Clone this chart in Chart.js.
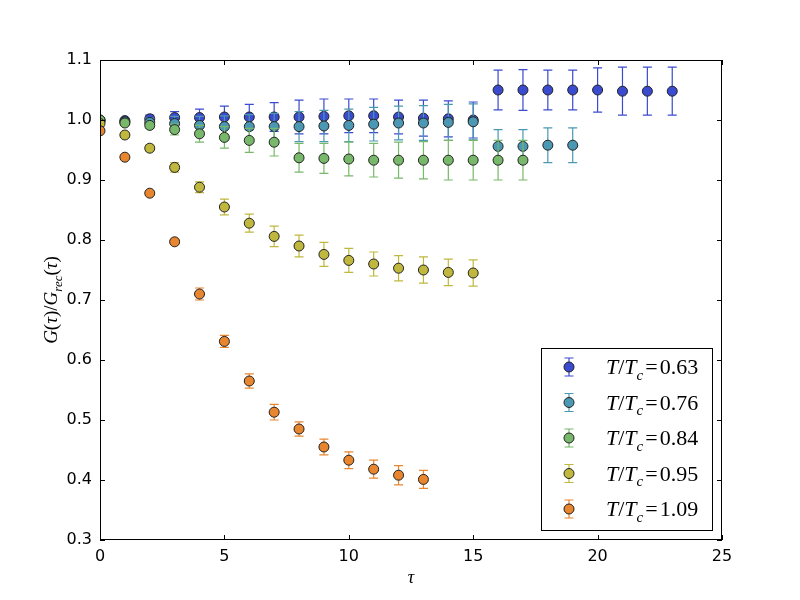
<!DOCTYPE html>
<html>
<head>
<meta charset="utf-8">
<script src="https://cdn.jsdelivr.net/npm/chart.js@4.4.1/dist/chart.umd.min.js"></script>
<style>
  html, body { margin: 0; padding: 0; background: #fff; }
</style>
</head>
<body>
<canvas id="chart" width="800" height="600"></canvas>
<script>
// imaginary time slices
const tau = [0, 1, 2, 3, 4, 5, 6, 7, 8, 9, 10, 11, 12, 13, 14, 15, 16, 17, 18, 19, 20, 21, 22, 23];

// T/Tc values for the legend
const tempLabels = ["0.63", "0.76", "0.84", "0.95", "1.09"];
const seriesColors = ["#3a4bcf", "#4a98b3", "#78b86a", "#c0b83e", "#e8862f"];

// G(tau)/G_rec(tau) and errors, one pair per temperature
const g063 = [1.000, 0.999, 1.002, 1.004, 1.004, 1.005, 1.005, 1.005, 1.005, 1.006, 1.007, 1.007, 1.005, 1.003, 1.002, 1.000, 1.050, 1.050, 1.050, 1.050, 1.050, 1.048, 1.048, 1.048];
const e063 = [0.001, 0.003, 0.006, 0.010, 0.014, 0.018, 0.021, 0.024, 0.028, 0.029, 0.028, 0.028, 0.028, 0.030, 0.030, 0.030, 0.033, 0.034, 0.033, 0.033, 0.037, 0.040, 0.040, 0.040];

const g076 = [0.998, 0.997, 0.996, 0.994, 0.991, 0.989, 0.989, 0.989, 0.989, 0.990, 0.991, 0.993, 0.995, 0.995, 0.996, 0.997, 0.956, 0.956, 0.958, 0.958];
const e076 = [0.002, 0.004, 0.007, 0.012, 0.015, 0.018, 0.020, 0.022, 0.025, 0.026, 0.027, 0.028, 0.028, 0.029, 0.030, 0.030, 0.028, 0.028, 0.029, 0.029];

const g084 = [1.000, 0.995, 0.991, 0.984, 0.977, 0.971, 0.966, 0.963, 0.937, 0.936, 0.935, 0.933, 0.933, 0.933, 0.933, 0.933, 0.933, 0.933];
const e084 = [0.001, 0.003, 0.005, 0.009, 0.014, 0.018, 0.020, 0.023, 0.024, 0.025, 0.028, 0.028, 0.030, 0.031, 0.033, 0.033, 0.033, 0.033];

const g095 = [0.994, 0.975, 0.953, 0.921, 0.888, 0.855, 0.828, 0.806, 0.790, 0.776, 0.766, 0.760, 0.753, 0.750, 0.746, 0.745];
const e095 = [0.001, 0.003, 0.005, 0.008, 0.009, 0.013, 0.015, 0.017, 0.018, 0.020, 0.020, 0.020, 0.021, 0.022, 0.022, 0.022];

const g109 = [0.982, 0.938, 0.878, 0.797, 0.710, 0.631, 0.565, 0.513, 0.485, 0.455, 0.433, 0.418, 0.408, 0.401];
const e109 = [0.001, 0.002, 0.003, 0.004, 0.010, 0.010, 0.012, 0.013, 0.012, 0.013, 0.014, 0.015, 0.016, 0.015];

const values = [g063, g076, g084, g095, g109];
const errors = [e063, e076, e084, e095, e109];

const xTicks = [0, 5, 10, 15, 20, 25];
const yTicks = [0.3, 0.4, 0.5, 0.6, 0.7, 0.8, 0.9, 1.0, 1.1];

const SERIF = "'Liberation Serif', 'DejaVu Serif', serif";
const SANS = "'DejaVu Sans', sans-serif";

// draw a run of text pieces (italic / subscript) like matplotlib mathtext
function drawMath(ctx, pieces, x, y, size, align) {
  const fontFor = p => (p.it ? "italic " : "") + Math.round(p.sub ? size * 0.7 : size) + "px " + SERIF;
  let total = 0;
  const widths = pieces.map(p => {
    ctx.font = fontFor(p);
    const w = ctx.measureText(p.t).width + (p.gap || 0) * 2;
    total += w;
    return w;
  });
  let cx = align === "center" ? x - total / 2 : x;
  ctx.textAlign = "left";
  ctx.textBaseline = "alphabetic";
  pieces.forEach((p, i) => {
    ctx.font = fontFor(p);
    ctx.fillText(p.t, cx + (p.gap || 0), p.sub ? y + size * 0.25 : y);
    cx += widths[i];
  });
}

function drawErrorBar(ctx, x, yTop, yBot, color) {
  ctx.strokeStyle = color;
  ctx.lineWidth = 1.2;
  ctx.beginPath();
  ctx.moveTo(x, yTop); ctx.lineTo(x, yBot);
  ctx.moveTo(x - 4.5, yTop); ctx.lineTo(x + 4.5, yTop);
  ctx.moveTo(x - 4.5, yBot); ctx.lineTo(x + 4.5, yBot);
  ctx.stroke();
}

const errorBarPlugin = {
  id: "errorBars",
  beforeDatasetDraw(chart, args) {
    const { ctx, chartArea, scales } = chart;
    const i = args.index;
    ctx.save();
    ctx.beginPath();
    ctx.rect(chartArea.left, chartArea.top, chartArea.right - chartArea.left, chartArea.bottom - chartArea.top);
    ctx.clip();
    values[i].forEach((v, k) => {
      const px = scales.x.getPixelForValue(tau[k]);
      drawErrorBar(ctx, px, scales.y.getPixelForValue(v + errors[i][k]), scales.y.getPixelForValue(v - errors[i][k]), seriesColors[i]);
    });
    ctx.restore();
  },
  afterDatasetsDraw(chart) {
    const { ctx, chartArea: a, scales } = chart;
    ctx.save();
    // frame
    ctx.strokeStyle = "#000";
    ctx.lineWidth = 1;
    ctx.strokeRect(a.left + 0.5, a.top + 0.5, a.right - a.left - 1, a.bottom - a.top - 1);
    // inward ticks on all four sides
    ctx.beginPath();
    xTicks.forEach(t => {
      const px = Math.round(scales.x.getPixelForValue(t)) + 0.5;
      ctx.moveTo(px, a.bottom); ctx.lineTo(px, a.bottom - 5);
      ctx.moveTo(px, a.top); ctx.lineTo(px, a.top + 5);
    });
    yTicks.forEach(t => {
      const py = Math.round(scales.y.getPixelForValue(t)) + 0.5;
      ctx.moveTo(a.left, py); ctx.lineTo(a.left + 5, py);
      ctx.moveTo(a.right, py); ctx.lineTo(a.right - 5, py);
    });
    ctx.stroke();

    // axis titles
    ctx.fillStyle = "#000";
    drawMath(ctx, [{ t: "\u03c4", it: true }], (a.left + a.right) / 2, 583, 18, "center");
    ctx.save();
    ctx.translate(57, (a.top + a.bottom) / 2);
    ctx.rotate(-Math.PI / 2);
    drawMath(ctx, [
      { t: "G", it: true }, { t: "(" }, { t: "\u03c4", it: true }, { t: ")/" },
      { t: "G", it: true }, { t: "rec", it: true, sub: true }, { t: "(" }, { t: "\u03c4", it: true }, { t: ")" }
    ], 0, 0, 19, "center");
    ctx.restore();

    // legend box
    const lx = 541, ly = 348, lw = 171, lh = 182;
    ctx.fillStyle = "#fff";
    ctx.fillRect(lx, ly, lw, lh);
    ctx.strokeStyle = "#000";
    ctx.strokeRect(lx + 0.5, ly + 0.5, lw, lh);
    tempLabels.forEach((lab, i) => {
      const cy = 367 + i * 35.5;
      drawErrorBar(ctx, 569, cy - 9, cy + 9, seriesColors[i]);
      ctx.beginPath();
      ctx.arc(569, cy, 5, 0, Math.PI * 2);
      ctx.fillStyle = seriesColors[i];
      ctx.fill();
      ctx.lineWidth = 1;
      ctx.strokeStyle = "#222";
      ctx.stroke();
      ctx.fillStyle = "#000";
      drawMath(ctx, [
        { t: "T", it: true }, { t: "/" }, { t: "T", it: true }, { t: "c", it: true, sub: true },
        { t: "=", gap: 2 }, { t: lab }
      ], 606, cy + 7, 22, "left");
    });
    ctx.restore();
  }
};

const datasets = values.map((vals, i) => ({
  label: "T/Tc=" + tempLabels[i],
  data: vals.map((v, k) => ({ x: tau[k], y: v })),
  backgroundColor: seriesColors[i],
  borderColor: "#222",
  borderWidth: 1,
  pointRadius: 5,
  pointHoverRadius: 5,
  clip: 0,
  order: values.length - i
}));

new Chart(document.getElementById("chart"), {
  type: "scatter",
  data: { datasets },
  options: {
    responsive: false,
    animation: false,
    layout: { padding: { top: 60, right: 78, left: 0, bottom: 0 } },
    plugins: { legend: { display: false }, tooltip: { enabled: false } },
    scales: {
      x: {
        type: "linear",
        min: 0,
        max: 25,
        afterFit: s => { s.height = 60; },
        afterBuildTicks: s => { s.ticks = xTicks.map(v => ({ value: v })); },
        grid: { display: false, drawTicks: false },
        border: { display: false },
        ticks: { color: "#000", padding: 7, font: { family: SANS, size: 16 } }
      },
      y: {
        min: 0.3,
        max: 1.1,
        afterFit: s => { s.width = 100; },
        afterBuildTicks: s => { s.ticks = yTicks.map(v => ({ value: v })); },
        grid: { display: false, drawTicks: false },
        border: { display: false },
        ticks: { color: "#000", padding: 8, font: { family: SANS, size: 16 }, callback: v => v.toFixed(1) }
      }
    }
  },
  plugins: [errorBarPlugin]
});
</script>
</body>
</html>
